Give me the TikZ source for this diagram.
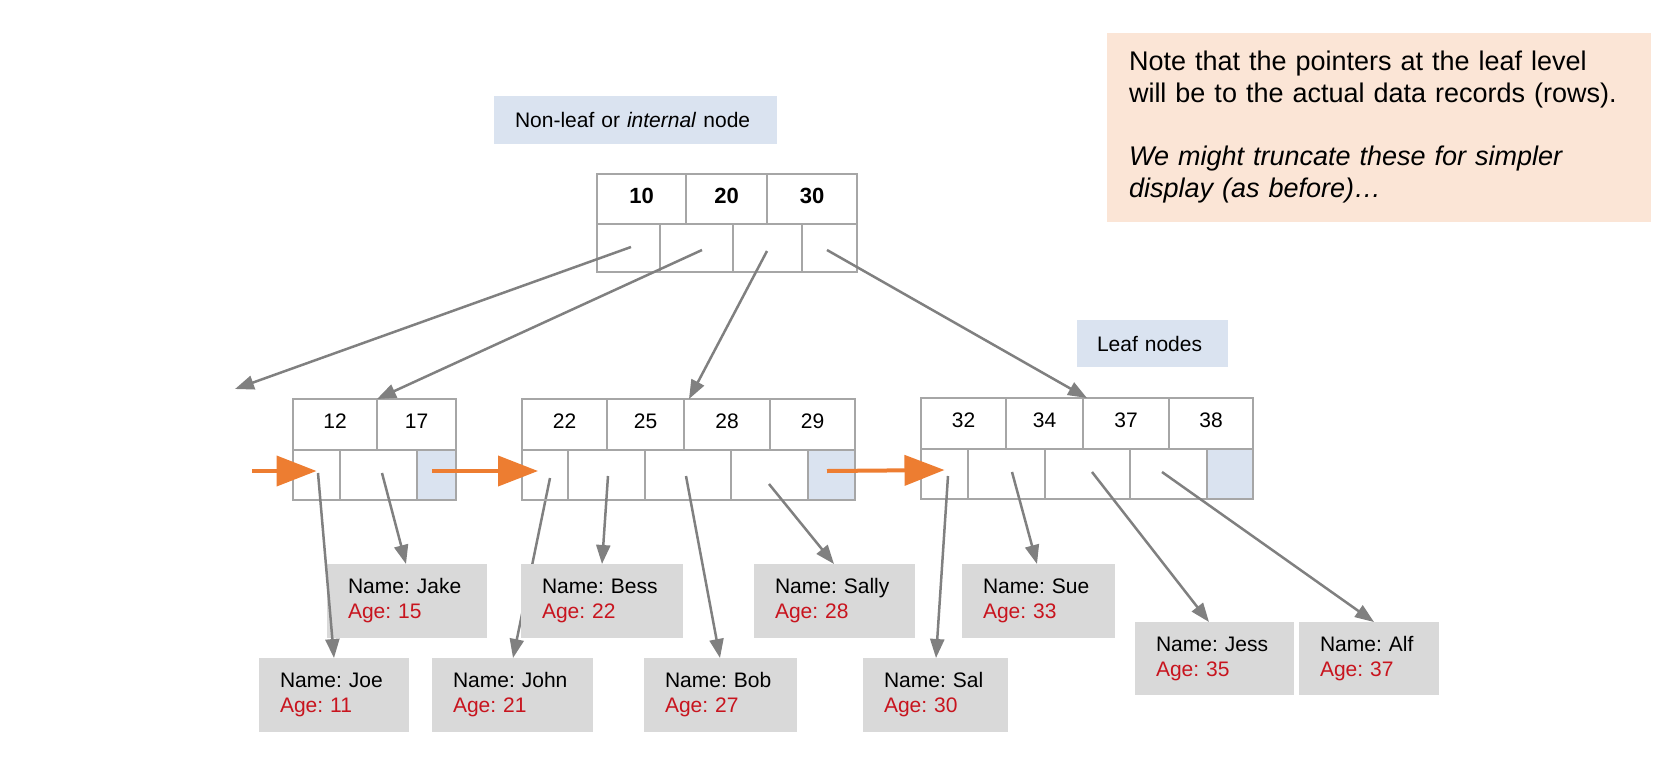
\documentclass[tikz,border=0pt]{standalone}
\usepackage{fontspec}
\setmainfont{Liberation Sans}
\frenchspacing
\usetikzlibrary{arrows.meta,calc}
\definecolor{bordergray}{HTML}{A6A6A6}
\definecolor{ptrgray}{HTML}{808080}
\definecolor{recfill}{HTML}{D9D9D9}
\definecolor{agered}{RGB}{200,20,30}
\definecolor{lblue}{HTML}{DAE3F0}
\definecolor{notefill}{HTML}{FBE5D6}
\definecolor{orng}{HTML}{ED7D31}
\pgfdeclarelayer{background}
\pgfsetlayers{background,main}
\newcommand{\bcell}[7]{%
  \pgfmathsetmacro\cw{#3-#2}\pgfmathsetmacro\ch{#5-#4}%
  \node[cellbox,#6,minimum width=\cw pt,minimum height=\ch pt] (#1) at ({(#2+#3)/2},{(#4+#5)/2}) {#7};}
\newcommand{\rec}[7]{%
  \pgfmathsetmacro\rw{#3-#2}\pgfmathsetmacro\rh{#5-#4}\pgfmathsetmacro\tw{#3-#2-42}%
  \node[recbox,minimum width=\rw pt,minimum height=\rh pt,text width=\tw pt] (#1) at ({(#2+#3)/2},{(#4+#5)/2}) {Name: #6\\\textcolor{agered}{Age: #7}};}
\tikzset{
  cellbox/.style={draw=bordergray,line width=2.8pt,inner sep=0pt,outer sep=0pt,text depth=7pt},
  rootkey/.style={font=\fontsize{22}{26}\selectfont\bfseries},
  leafkey/.style={font=\fontsize{21}{25}\selectfont},
  nextcell/.style={fill=lblue},
  recbox/.style={fill=recfill,inner xsep=21pt,inner ysep=0pt,outer sep=0pt,align=left,font=\fontsize{21}{25}\selectfont},
  lblbox/.style={fill=lblue,inner ysep=0pt,outer sep=0pt,align=left,font=\fontsize{21}{25}\selectfont},
  ptr/.style={draw=ptrgray,line width=2.5pt,-{Triangle[length=19pt,width=14pt]}},
  nextptr/.style={draw=orng,line width=4pt,-{Triangle[length=40pt,width=30pt]}}
}
\begin{document}
\begin{tikzpicture}[x=1pt,y=-1pt]
\useasboundingbox (0,0) rectangle (1676,780);

% labels
\node[lblbox,minimum width=283pt,minimum height=48pt,text width=241pt,inner xsep=21pt] (lblint) at (635.5,120) {Non-leaf or \textit{internal} node};
\node[lblbox,minimum width=151pt,minimum height=47pt,text width=111pt,inner xsep=20pt] (lblleaf) at (1152.5,343.5) {Leaf nodes};
\node[fill=notefill,minimum width=544pt,minimum height=189pt,text width=500pt,inner xsep=22pt,inner ysep=0pt,align=left,font=\fontsize{27}{32}\selectfont] (note) at (1379,127.5)
  {\makebox[500pt][l]{Note that the pointers at the leaf level}\\
   \makebox[500pt][l]{will be to the actual data records (rows).}\\[31pt]
   \makebox[500pt][l]{\itshape We might truncate these for simpler}\\
   \makebox[500pt][l]{\itshape display (as before)\ldots}};

% root node
\bcell{r10}{597}{686}{174}{224}{rootkey}{10}
\bcell{r20}{686}{767}{174}{224}{rootkey}{20}
\bcell{r30}{767}{857}{174}{224}{rootkey}{30}
\bcell{rp1}{597}{660}{224}{272}{}{}
\bcell{rp2}{660}{733}{224}{272}{}{}
\bcell{rp3}{733}{802}{224}{272}{}{}
\bcell{rp4}{802}{857}{224}{272}{}{}

% leaf 1
\bcell{l1k1}{293}{377}{399}{450}{leafkey}{12}
\bcell{l1k2}{377}{456}{399}{450}{leafkey}{17}
\bcell{l1p1}{293}{340}{450}{500}{}{}
\bcell{l1p2}{340}{417}{450}{500}{}{}
\bcell{l1p3}{417}{456}{450}{500}{nextcell}{}

% leaf 2
\bcell{l2k1}{522}{607}{399}{450}{leafkey}{22}
\bcell{l2k2}{607}{684}{399}{450}{leafkey}{25}
\bcell{l2k3}{684}{770}{399}{450}{leafkey}{28}
\bcell{l2k4}{770}{855}{399}{450}{leafkey}{29}
\bcell{l2p1}{522}{568}{450}{500}{}{}
\bcell{l2p2}{568}{645}{450}{500}{}{}
\bcell{l2p3}{645}{731}{450}{500}{}{}
\bcell{l2p4}{731}{808}{450}{500}{}{}
\bcell{l2p5}{808}{855}{450}{500}{nextcell}{}

% leaf 3
\bcell{l3k1}{921}{1006}{398}{449}{leafkey}{32}
\bcell{l3k2}{1006}{1083}{398}{449}{leafkey}{34}
\bcell{l3k3}{1083}{1169}{398}{449}{leafkey}{37}
\bcell{l3k4}{1169}{1253}{398}{449}{leafkey}{38}
\bcell{l3p1}{921}{968}{449}{499}{}{}
\bcell{l3p2}{968}{1045}{449}{499}{}{}
\bcell{l3p3}{1045}{1130}{449}{499}{}{}
\bcell{l3p4}{1130}{1207}{449}{499}{}{}
\bcell{l3p5}{1207}{1253}{449}{499}{nextcell}{}

% records
\rec{jake}{327}{487}{564}{638}{Jake}{15}
\rec{bess}{521}{683}{564}{638}{Bess}{22}
\rec{sally}{754}{915}{564}{638}{Sally}{28}
\rec{sue}{962}{1115}{564}{638}{Sue}{33}
\rec{joe}{259}{409}{658}{732}{Joe}{11}
\rec{john}{432}{593}{658}{732}{John}{21}
\rec{bob}{644}{797}{658}{732}{Bob}{27}
\rec{sal}{863}{1008}{658}{732}{Sal}{30}
\rec{jess}{1135}{1294}{622}{695}{Jess}{35}
\rec{alf}{1299}{1439}{622}{695}{Alf}{37}

% pointer start points
\coordinate (sr1) at (631,247);
\coordinate (sr2) at (702,250);
\coordinate (sr3) at (767,251);
\coordinate (sr4) at (827,250);
\coordinate (e1) at (235,389);
\coordinate (s11) at (318,473);
\coordinate (s12) at (382,473);
\coordinate (s21) at (550,478);
\coordinate (s22) at (608,476);
\coordinate (s23) at (686,476);
\coordinate (s24) at (769,484);
\coordinate (s31) at (948,476);
\coordinate (s32) at (1012,472);
\coordinate (s33) at (1092,472);
\coordinate (s34) at (1162,472);
\coordinate (o1s) at (252,471);

% root pointers
\draw[ptr] (sr1) -- (e1);
\draw[ptr] (sr2) -- (l1k1.north east);
\draw[ptr] (sr3) -- ([xshift=5pt]l2k2.north east);
\draw[ptr] (sr4) -- ([xshift=4pt]l3k2.north east);

% leaf pointers to records
\begin{pgfonlayer}{background}
\draw[ptr] (s21) -- ([xshift=81pt]john.north west);
\end{pgfonlayer}
\draw[ptr] (s11) -- ([xshift=75pt]joe.north west);
\draw[ptr] (s12) -- ([xshift=79pt]jake.north west);
\draw[ptr] (s22) -- ([xshift=81pt]bess.north west);
\draw[ptr] (s23) -- ([xshift=76pt]bob.north west);
\draw[ptr] (s24) -- ([xshift=80pt]sally.north west);
\draw[ptr] (s31) -- ([xshift=73pt]sal.north west);
\draw[ptr] (s32) -- ([xshift=75pt]sue.north west);
\draw[ptr] (s33) -- ([xshift=74pt]jess.north west);
\draw[ptr] (s34) -- ([xshift=75pt]alf.north west);

% next-leaf pointers
\draw[nextptr] (o1s) -- ([yshift=4pt]l1p1.center);
\draw[nextptr] ([xshift=-4.5pt,yshift=4pt]l1p3.center) -- ([xshift=-7pt,yshift=4pt]l2p1.center);
\draw[nextptr] ([xshift=-4.5pt,yshift=4pt]l2p5.center) -- ([yshift=4pt]l3p1.center);
\end{tikzpicture}
\end{document}
